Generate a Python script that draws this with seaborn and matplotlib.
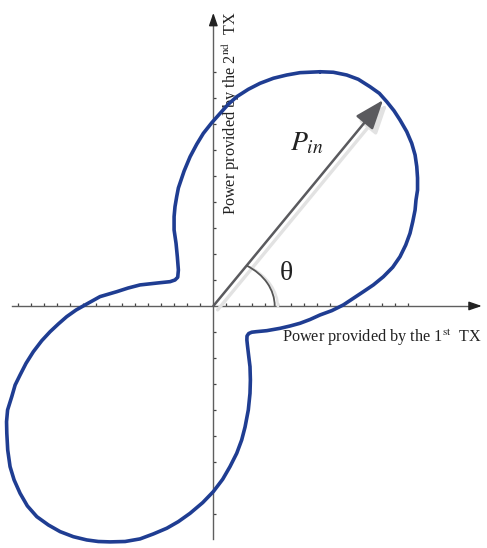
import matplotlib
matplotlib.use("Agg")
import matplotlib.pyplot as plt
import numpy as np
import pandas as pd
import seaborn as sns
from matplotlib.patches import Arc

sns.set_theme(style="white")
plt.rcParams["font.family"] = ["Liberation Serif", "DejaVu Serif"]
plt.rcParams["mathtext.fontset"] = "stix"

# Closed power-region boundary (1st TX power, 2nd TX power), traced clockwise from the top
curve_x = [8.21, 9.23, 10.26, 11.15, 12.05, 12.77, 13.34, 13.90, 14.36, 14.88,
           15.26, 15.52, 15.65, 15.71, 15.71, 15.59, 15.52, 15.34, 15.13, 14.80,
           14.36, 13.80, 13.08, 12.31, 11.54, 10.77, 10.00, 9.11, 8.21, 7.44,
           6.67, 5.90, 5.13, 4.11, 3.28, 2.95, 2.72, 2.59, 2.58, 2.62,
           2.71, 2.82, 2.85, 2.82, 2.69, 2.44, 2.18, 1.80, 1.28, 0.72,
           0.00, -0.82, -1.79, -2.69, -3.58, -4.62, -5.64, -6.79, -7.95, -8.85,
           -9.74, -10.77, -11.79, -12.69, -13.58, -14.31, -14.87, -15.33, -15.64, -15.82,
           -15.89, -15.91, -15.83, -15.51, -15.25, -14.87, -14.41, -13.85, -13.20, -12.56,
           -11.92, -11.28, -10.56, -9.87, -8.72, -7.43, -6.56, -5.64, -4.10, -3.33,
           -2.95, -2.74, -2.69, -2.77, -2.87, -3.02, -3.02, -2.95, -2.82, -2.69,
           -2.25, -1.79, -1.28, -0.77, -0.12, 0.52, 1.15, 1.80, 2.69, 3.59,
           4.62, 5.65, 6.67]
curve_y = [18.02, 17.98, 17.77, 17.44, 16.87, 16.36, 15.72, 15.02, 14.31, 13.41,
           12.52, 11.62, 10.72, 9.85, 8.92, 8.15, 7.38, 6.48, 5.59, 4.69,
           3.79, 2.98, 2.25, 1.62, 1.10, 0.59, 0.08, -0.36, -0.69, -1.04,
           -1.33, -1.54, -1.72, -1.90, -1.98, -2.02, -2.12, -2.31, -2.62, -3.00,
           -3.77, -4.67, -5.69, -6.72, -8.00, -9.31, -10.31, -11.33, -12.36, -13.33,
           -14.28, -15.13, -15.95, -16.59, -17.10, -17.54, -17.92, -18.12, -18.15, -18.12,
           -18.00, -17.75, -17.36, -16.85, -16.21, -15.38, -14.41, -13.38, -12.36, -11.08,
           -9.79, -8.90, -8.00, -6.98, -6.08, -5.31, -4.41, -3.52, -2.67, -1.98,
           -1.38, -0.82, -0.31, 0.08, 0.72, 1.10, 1.38, 1.62, 1.79, 1.87,
           2.00, 2.21, 2.77, 3.79, 4.82, 5.85, 6.87, 7.64, 8.41, 9.08,
           10.38, 11.48, 12.44, 13.28, 14.10, 14.82, 15.52, 16.10, 16.67, 17.13,
           17.52, 17.77, 17.95]

# Input power vector
p_in_magnitude = 20.53
theta_deg = 50.5

x_ticks = [v for v in range(-15, 16) if v != 0]
y_ticks = [v for v in range(-16, 19, 2) if v != 0]

x_label = r"Power provided by the 1$^{\mathrm{st}}$  TX"
y_label = r"Power provided by the 2$^{\mathrm{nd}}$  TX"

curve_color = "#1f3d92"
axis_color = "#5f5f5f"
arrow_color = "#5a5a5e"
shadow_color = "#e2e2e2"

fig = plt.figure(figsize=(4.87, 5.48), dpi=100)
ax = fig.add_axes([0, 0, 1, 1])
ax.set_xlim(-16.41, 21.05)
ax.set_ylim(-18.62, 23.54)
ax.set_aspect("equal")

# Boundary curve
df = pd.DataFrame({"x": curve_x + curve_x[:1], "y": curve_y + curve_y[:1]})
df["order"] = np.arange(len(df))
sns.lineplot(data=df, x="x", y="y", sort=False, estimator=None,
             color=curve_color, lw=2.6, ax=ax, zorder=5)
for ln in ax.lines:
    ln.set_solid_joinstyle("round")
    ln.set_solid_capstyle("round")

# Axes through the origin
for side in ("top", "right"):
    ax.spines[side].set_visible(False)
ax.spines["bottom"].set_position(("data", 0))
ax.spines["left"].set_position(("data", 0))
ax.spines["bottom"].set_bounds(-15.5, 20.3)
ax.spines["left"].set_bounds(-17.9, 22.0)
for side in ("bottom", "left"):
    ax.spines[side].set_color(axis_color)
    ax.spines[side].set_linewidth(1.0)
ax.set_xticks(x_ticks)
ax.set_yticks(y_ticks)
ax.tick_params(axis="both", which="major", bottom=True, left=True,
               direction="in", length=2.4, width=0.9, color="#444444",
               labelbottom=False, labelleft=False)
ax.set_xlabel("")
ax.set_ylabel("")
ax.grid(False)

head = dict(arrowstyle="-|>,head_length=1.1,head_width=0.38",
            mutation_scale=7, color="#222222", lw=1.0, shrinkA=0, shrinkB=0)
ax.annotate("", xy=(20.65, 0), xytext=(20.0, 0), arrowprops=head)
ax.annotate("", xy=(0, 22.55), xytext=(0, 21.9), arrowprops=head)

# P_in arrow with its light shadow
tip = (p_in_magnitude * np.cos(np.radians(theta_deg)),
       p_in_magnitude * np.sin(np.radians(theta_deg)))
vec_style = "-|>,head_length=2.0,head_width=0.75"
ax.annotate("", xy=(tip[0] + 0.33, tip[1] - 0.3), xytext=(0.33, -0.3),
            arrowprops=dict(arrowstyle=vec_style, mutation_scale=9,
                            color=shadow_color, lw=2.4, shrinkA=0, shrinkB=0),
            zorder=3)
ax.annotate("", xy=tip, xytext=(0, 0),
            arrowprops=dict(arrowstyle=vec_style, mutation_scale=9,
                            color=arrow_color, lw=1.8, shrinkA=0, shrinkB=0),
            zorder=4)

# Angle marker
ax.add_patch(Arc((0.25, -0.12), 2 * 4.72, 2 * 3.7, theta1=0, theta2=theta_deg,
                 color=shadow_color, lw=1.8, zorder=3))
ax.add_patch(Arc((0, 0), 2 * 4.72, 2 * 3.7, theta1=0, theta2=theta_deg,
                 color="#555555", lw=1.3, zorder=4))

ax.text(5.62, 2.52, "θ", fontsize=20, ha="center", va="center", color="#222222")
ax.text(5.9, 12.0, r"$P_{in}$", fontsize=20, ha="left", va="baseline",
        color="#222222")

ax.text(5.26, -2.75, x_label, fontsize=11.7, ha="left", va="baseline",
        color="#222222")
ax.text(1.78, 7.0, y_label, fontsize=11.7, rotation=90, rotation_mode="anchor",
        ha="left", va="baseline", color="#222222")

fig.savefig("out.png", dpi=100)
